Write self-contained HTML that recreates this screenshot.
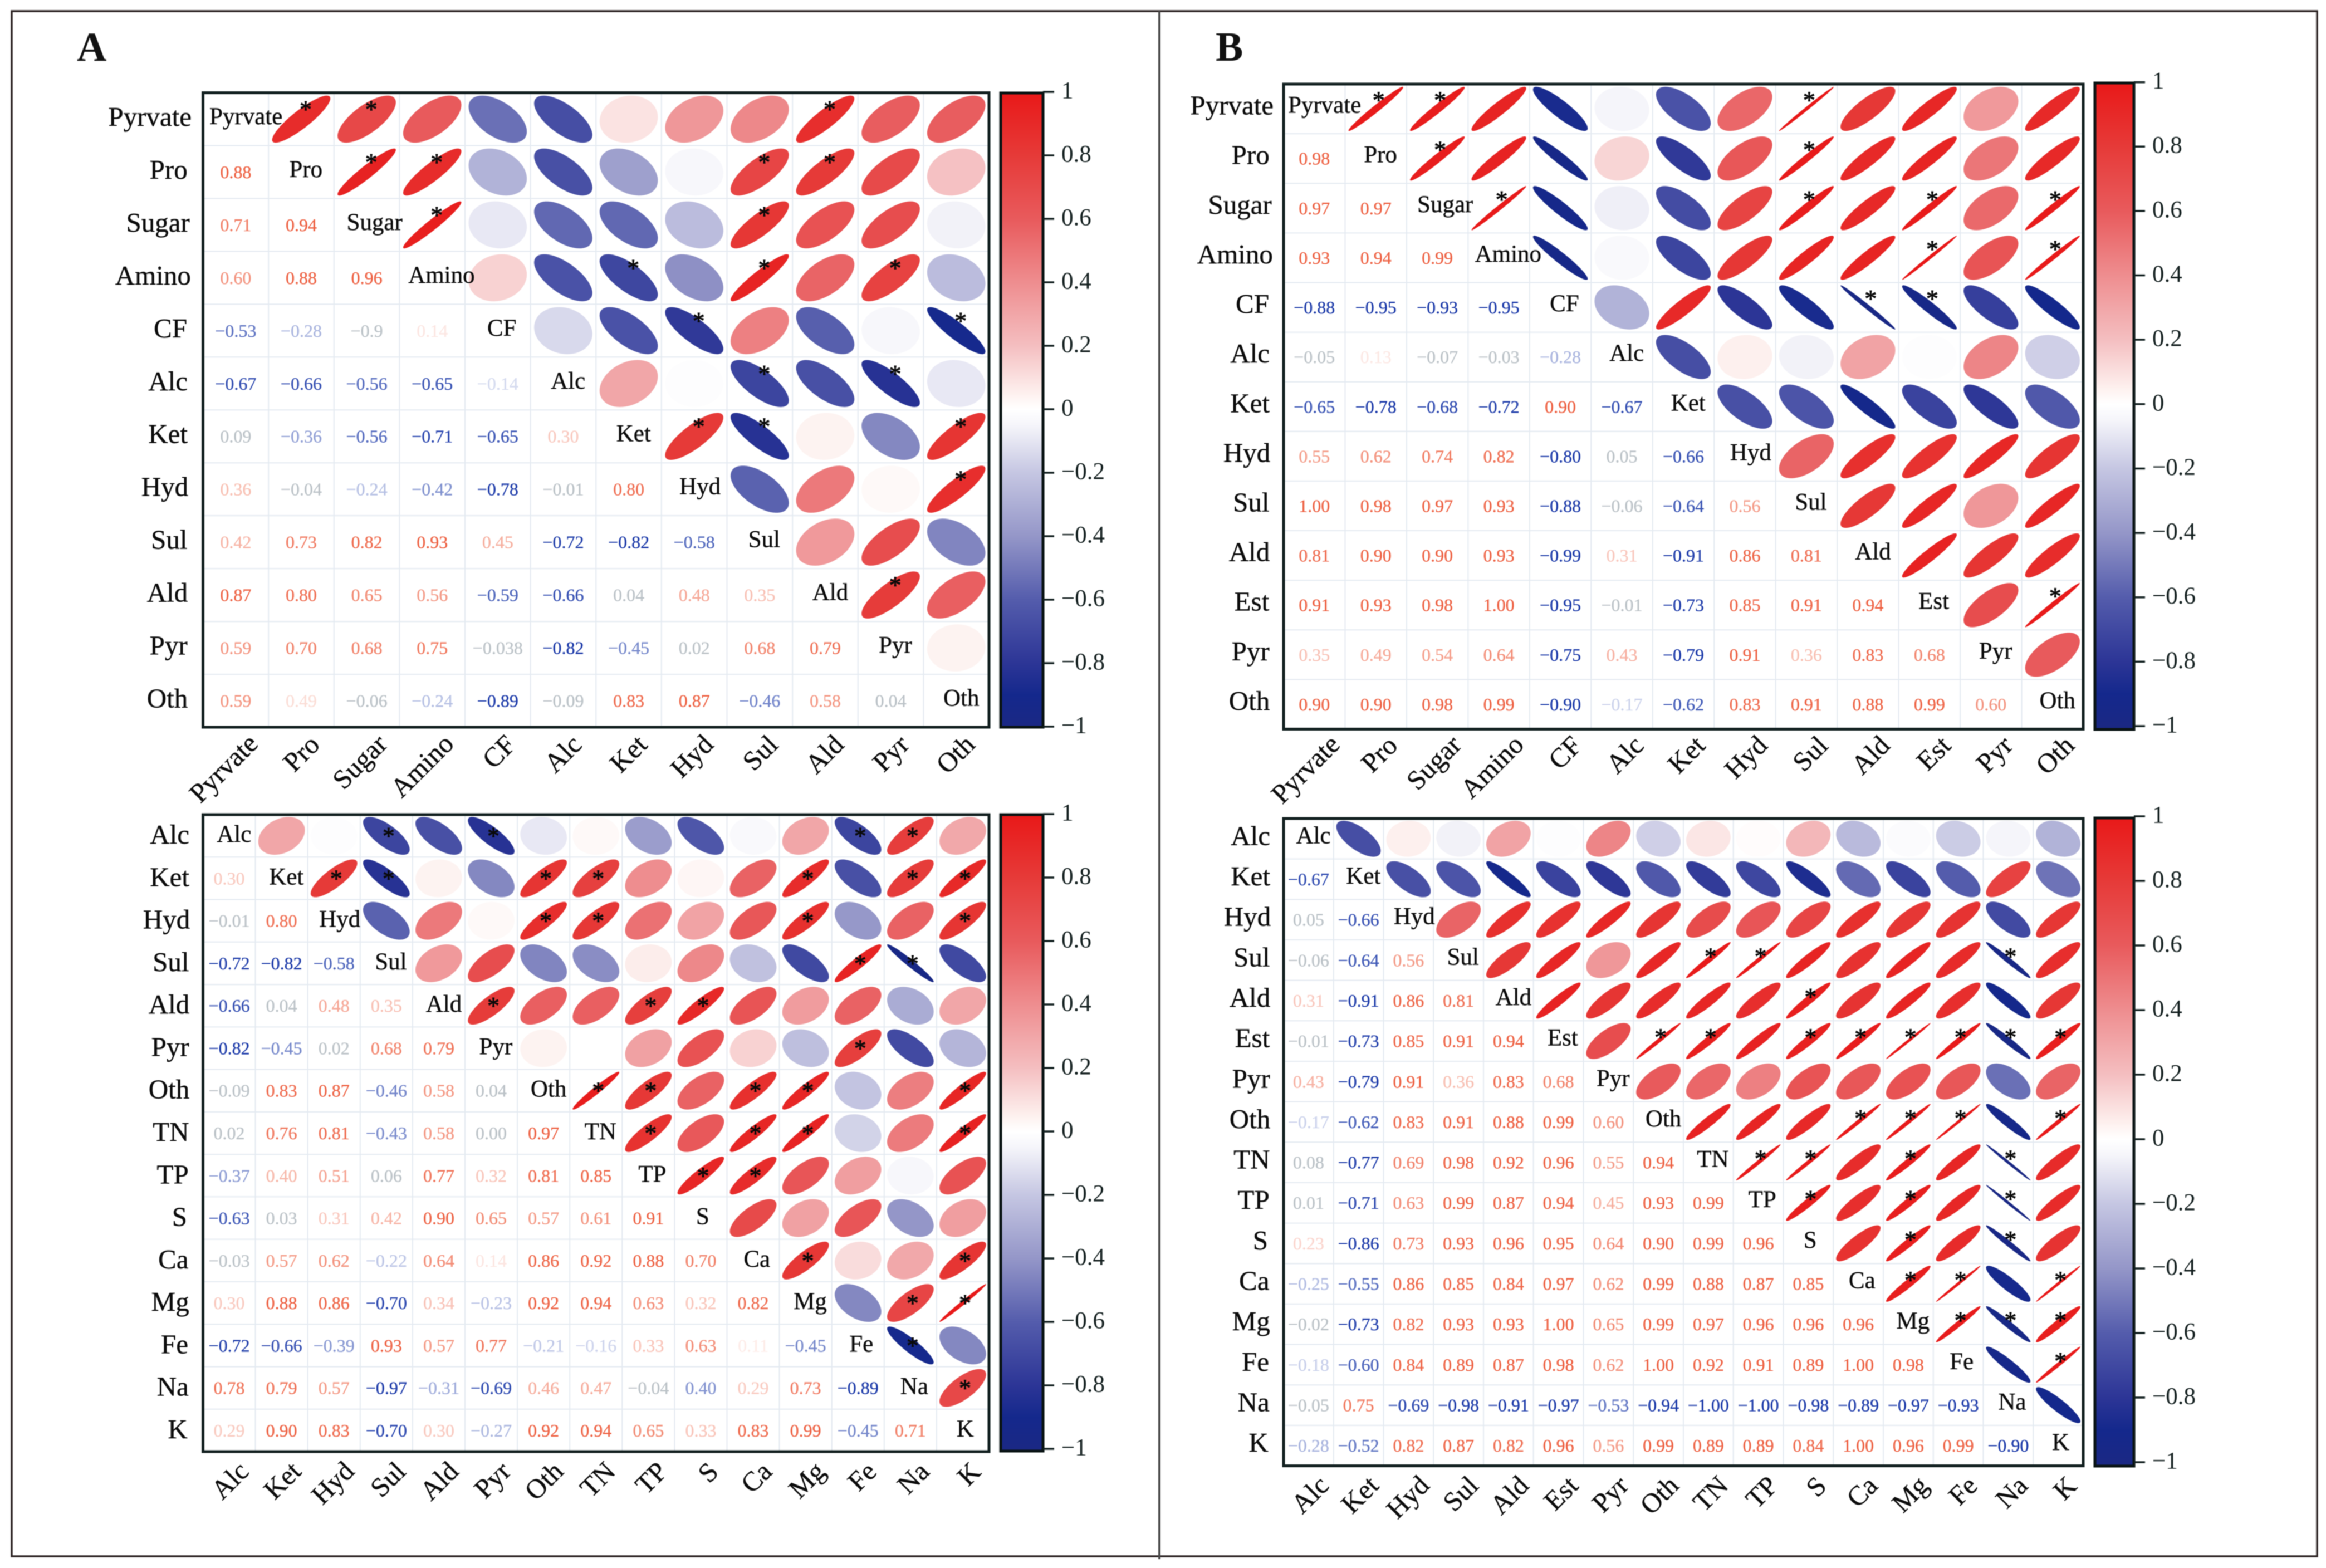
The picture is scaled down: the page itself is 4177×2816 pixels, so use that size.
<!DOCTYPE html>
<html lang="en">
<head>
<meta charset="utf-8">
<title>Correlation matrices A and B</title>
<style>
html,body{margin:0;padding:0;background:#fff;}
svg{display:block;filter:blur(0.7px);}
text{font-family:"Liberation Serif",serif;}
</style>
</head>
<body>
<svg id="chart" xmlns="http://www.w3.org/2000/svg" width="4177" height="2816" viewBox="0 0 4177 2816">
  <defs id="defs"></defs>
  <rect x="0" y="0" width="4177" height="2816" fill="#ffffff"/>
  <rect x="21" y="20" width="4140" height="2775" fill="none" stroke="#2b2323" stroke-width="3.5"/>
  <line x1="2082" y1="20" x2="2082" y2="2800" stroke="#4a4a4a" stroke-width="4"/>
  <text x="138" y="109" font-size="74" font-weight="bold" fill="#111">A</text>
  <text x="2183" y="109" font-size="74" font-weight="bold" fill="#111">B</text>
</svg>
<script>
// ---------- Data: panel A, top ----------
const catsA1 = ["Pyrvate","Pro","Sugar","Amino","CF","Alc","Ket","Hyd","Sul","Ald","Pyr","Oth"];
const rA1 = [
 [],
 [0.88],
 [0.71,0.94],
 [0.60,0.88,0.96],
 [-0.53,-0.28,-0.09,0.14],
 [-0.67,-0.66,-0.56,-0.65,-0.14],
 [0.09,-0.36,-0.56,-0.71,-0.65,0.30],
 [0.36,-0.04,-0.24,-0.42,-0.78,-0.01,0.80],
 [0.42,0.73,0.82,0.93,0.45,-0.72,-0.82,-0.58],
 [0.87,0.80,0.65,0.56,-0.59,-0.66,0.04,0.48,0.35],
 [0.59,0.70,0.68,0.75,-0.038,-0.82,-0.45,0.02,0.68,0.79],
 [0.59,0.19,-0.06,-0.24,-0.89,-0.09,0.83,0.87,-0.46,0.58,0.04]
];
const printedA1 = {"4,2":"−0.9","11,1":"0.49","10,4":"−0.038"};
const starsA1 = [
 ["Pyrvate",["Pro","Sugar","Ald"]],
 ["Pro",["Sugar","Amino","Sul","Ald"]],
 ["Sugar",["Amino","Sul"]],
 ["Amino",["Ket","Sul","Pyr"]],
 ["CF",["Hyd","Oth"]],
 ["Alc",["Sul","Pyr"]],
 ["Ket",["Hyd","Sul","Oth"]],
 ["Hyd",["Oth"]],
 ["Ald",["Pyr"]]
];
// ---------- Data: panel A, bottom ----------
const catsA2 = ["Alc","Ket","Hyd","Sul","Ald","Pyr","Oth","TN","TP","S","Ca","Mg","Fe","Na","K"];
const rA2 = [
 [],
 [0.30],
 [-0.01,0.80],
 [-0.72,-0.82,-0.58],
 [-0.66,0.04,0.48,0.35],
 [-0.82,-0.45,0.02,0.68,0.79],
 [-0.09,0.83,0.87,-0.46,0.58,0.04],
 [0.02,0.76,0.81,-0.43,0.58,0.00,0.97],
 [-0.37,0.40,0.51,0.06,0.77,0.32,0.81,0.85],
 [-0.63,0.03,0.31,0.42,0.90,0.65,0.57,0.61,0.91],
 [-0.03,0.57,0.62,-0.22,0.64,0.14,0.86,0.92,0.88,0.70],
 [0.30,0.88,0.86,-0.70,0.34,-0.23,0.92,0.94,0.63,0.32,0.82],
 [-0.72,-0.66,-0.39,0.93,0.57,0.77,-0.21,-0.16,0.33,0.63,0.11,-0.45],
 [0.78,0.79,0.57,-0.97,-0.31,-0.69,0.46,0.47,-0.04,-0.40,0.29,0.73,-0.89],
 [0.29,0.90,0.83,-0.70,0.30,-0.27,0.92,0.94,0.65,0.33,0.83,0.99,-0.45,0.71]
];
const printedA2 = {"13,9":"0.40"};
const starsA2 = [
 ["Alc",["Sul","Pyr","Fe","Na"]],
 ["Ket",["Hyd","Sul","Oth","TN","Mg","Na","K"]],
 ["Hyd",["Oth","TN","Mg","K"]],
 ["Sul",["Fe","Na"]],
 ["Ald",["Pyr","TP","S"]],
 ["Pyr",["Fe"]],
 ["Oth",["TN","TP","Ca","Mg","K"]],
 ["TN",["TP","Ca","Mg","K"]],
 ["TP",["S","Ca"]],
 ["Ca",["Mg","K"]],
 ["Mg",["Na","K"]],
 ["Fe",["Na"]],
 ["Na",["K"]]
];
// ---------- Data: panel B, top ----------
const catsB1 = ["Pyrvate","Pro","Sugar","Amino","CF","Alc","Ket","Hyd","Sul","Ald","Est","Pyr","Oth"];
const rB1 = [
 [],
 [0.98],
 [0.97,0.97],
 [0.93,0.94,0.99],
 [-0.88,-0.95,-0.93,-0.95],
 [-0.05,0.13,-0.07,-0.03,-0.28],
 [-0.65,-0.78,-0.68,-0.72,0.90,-0.67],
 [0.55,0.62,0.74,0.82,-0.80,0.05,-0.66],
 [1.00,0.98,0.97,0.93,-0.88,-0.06,-0.64,0.56],
 [0.81,0.90,0.90,0.93,-0.99,0.31,-0.91,0.86,0.81],
 [0.91,0.93,0.98,1.00,-0.95,-0.01,-0.73,0.85,0.91,0.94],
 [0.35,0.49,0.54,0.64,-0.75,0.43,-0.79,0.91,0.36,0.83,0.68],
 [0.90,0.90,0.98,0.99,-0.90,-0.17,-0.62,0.83,0.91,0.88,0.99,0.60]
];
const printedB1 = {};
const starsB1 = [
 ["Pyrvate",["Pro","Sugar","Sul"]],
 ["Pro",["Sugar","Sul"]],
 ["Sugar",["Amino","Sul","Est","Oth"]],
 ["Amino",["Est","Oth"]],
 ["CF",["Ald","Est"]],
 ["Est",["Oth"]]
];
// ---------- Data: panel B, bottom ----------
const catsB2 = ["Alc","Ket","Hyd","Sul","Ald","Est","Pyr","Oth","TN","TP","S","Ca","Mg","Fe","Na","K"];
const rB2 = [
 [],
 [-0.67],
 [0.05,-0.66],
 [-0.06,-0.64,0.56],
 [0.31,-0.91,0.86,0.81],
 [-0.01,-0.73,0.85,0.91,0.94],
 [0.43,-0.79,0.91,0.36,0.83,0.68],
 [-0.17,-0.62,0.83,0.91,0.88,0.99,0.60],
 [0.08,-0.77,0.69,0.98,0.92,0.96,0.55,0.94],
 [0.01,-0.71,0.63,0.99,0.87,0.94,0.45,0.93,0.99],
 [0.23,-0.86,0.73,0.93,0.96,0.95,0.64,0.90,0.99,0.96],
 [-0.25,-0.55,0.86,0.85,0.84,0.97,0.62,0.99,0.88,0.87,0.85],
 [-0.02,-0.73,0.82,0.93,0.93,1.00,0.65,0.99,0.97,0.96,0.96,0.96],
 [-0.18,-0.60,0.84,0.89,0.87,0.98,0.62,1.00,0.92,0.91,0.89,1.00,0.98],
 [-0.05,0.75,-0.69,-0.98,-0.91,-0.97,-0.53,-0.94,-1.00,-1.00,-0.98,-0.89,-0.97,-0.93],
 [-0.28,-0.52,0.82,0.87,0.82,0.96,0.56,0.99,0.89,0.89,0.84,1.00,0.96,0.99,-0.90]
];
const printedB2 = {};
const starsB2 = [
 ["Sul",["TN","TP","Na"]],
 ["Ald",["S"]],
 ["Est",["Oth","TN","S","Ca","Mg","Fe","Na","K"]],
 ["Oth",["Ca","Mg","Fe","K"]],
 ["TN",["TP","S","Mg","Na"]],
 ["TP",["S","Mg","Na"]],
 ["S",["Mg","Na"]],
 ["Ca",["Mg","Fe","K"]],
 ["Mg",["Fe","Na","K"]],
 ["Fe",["K"]]
];
const colorbarTicks = [1,0.8,0.6,0.4,0.2,0,-0.2,-0.4,-0.6,-0.8,-1];

// ---------- Colour ramp ----------
const rampValues = [-1,-0.9,-0.8,-0.6,-0.4,-0.2,-0.05,0,0.05,0.2,0.4,0.6,0.8,1];
const rampColors = [[26,40,132],[20,40,140],[44,53,150],[84,92,172],[148,150,200],[197,198,226],[245,245,250],[255,255,255],[253,240,238],[244,190,192],[238,141,143],[232,90,92],[230,58,56],[232,24,24]];
function rampColor(v){
  v = Math.max(-1,Math.min(1,v));
  for(let k=0;k<rampValues.length-1;k++){
    if(v<=rampValues[k+1]){
      const f=(v-rampValues[k])/(rampValues[k+1]-rampValues[k]);
      const a=rampColors[k],b=rampColors[k+1];
      return "rgb("+[0,1,2].map(c=>Math.round(a[c]+(b[c]-a[c])*f)).join(",")+")";
    }
  }
  return "rgb(232,24,24)";
}
function textColor(v){
  const t=Math.abs(v);
  if(t<0.1){ return "#bcc3c8"; }
  const target = v>0 ? [238,100,70] : [30,60,170];
  const f = Math.min(1, v>0 ? t/0.88 : t/0.75);
  return "rgb("+[0,1,2].map(c=>Math.round(255+(target[c]-255)*f)).join(",")+")";
}
const NS="http://www.w3.org/2000/svg";
const svg=document.getElementById("chart");
function mk(tag,attrs,parent,txt){
  const el=document.createElementNS(NS,tag);
  for(const k in attrs){ el.setAttribute(k,attrs[k]); }
  if(txt!==undefined){ el.textContent=txt; }
  parent.appendChild(el);
  return el;
}
function fmt(v){ return v.toFixed(2).replace("-","−"); }

function drawPanel(p){
  const n=p.cats.length;
  const cw=(p.x1-p.x0)/n, ch=(p.y1-p.y0)/n;
  const xAt=i=>p.x0+cw*(i+0.5);
  const yAt=i=>p.y0+ch*(i+0.5);
  const g=mk("g",{},svg);
  
  

  // grid
  for(let i=1;i<n;i++){
    const v=mk("line",{x1:p.x0+cw*i,x2:p.x0+cw*i,y1:p.y0,y2:p.y1,stroke:"#e4eaf1","stroke-width":2},g);
    
    
    const h=mk("line",{x1:p.x0,x2:p.x1,y1:p.y0+ch*i,y2:p.y0+ch*i,stroke:"#e4eaf1","stroke-width":2},g);
    
    
  }

  // upper-triangle ellipses from r values
  for(let i=0;i<n;i++){
    for(let j=0;j<i;j++){
      const r=p.r[i][j];
      const c=Math.max(-0.995,Math.min(0.995,r));
      const d=Math.acos(c);
      const ax=0.445*cw, ay=0.445*ch;
      const cx=xAt(i), cy=yAt(j);
      let path="";
      for(let s=0;s<60;s++){
        const t=s/60*2*Math.PI;
        const px=cx+ax*Math.cos(t+d/2);
        const py=cy-ay*Math.cos(t-d/2);
        path+=(s?"L":"M")+px.toFixed(1)+" "+py.toFixed(1);
      }
      const e=mk("path",{d:path+"Z",fill:rampColor(r)},g);
      
      
    }
  }

  // significance stars
  p.stars.forEach(function(row){
    const ri=p.cats.indexOf(row[0]);
    row[1].forEach(function(cn){
      const ci=p.cats.indexOf(cn);
      const st=mk("text",{x:xAt(ci)+p.starDx,y:yAt(ri)+p.starDy+20,"font-size":44,"text-anchor":"middle",fill:"#0a0a0a",stroke:"#0a0a0a","stroke-width":0.9},g,"*");
      
      
    });
  });

  // lower-triangle printed numbers
  for(let i=1;i<n;i++){
    for(let j=0;j<i;j++){
      const r=p.r[i][j];
      const key=i+","+j;
      const label=(key in p.printed)?p.printed[key]:fmt(r);
      const col=textColor(r);
      const t=mk("text",{x:xAt(j),y:yAt(i)+11,"font-size":32,"text-anchor":"middle",fill:col,stroke:col,"stroke-width":0.35},g,label);
      
      
    }
  }

  // diagonal names, row labels, column labels
  p.cats.forEach(function(name,i){
    const dl=mk("text",{x:xAt(i),y:yAt(i)+11+p.labelDy,"font-size":43,"text-anchor":"middle",fill:"#0c0c0c",stroke:"#0c0c0c","stroke-width":0.4},g,name);
    
    
    dl.setAttribute("x",xAt(i)+0.14*dl.getComputedTextLength());

    const rl=mk("text",{y:yAt(i)+14+p.labelDy,"font-size":49,"text-anchor":"end",fill:"#0c0c0c",stroke:"#0c0c0c","stroke-width":0.4},g,name);
    
    
    rl.setAttribute("x",p.rowX+0.09*(rl.getComputedTextLength()-60));

    const cl=mk("text",{"font-size":49,"text-anchor":"middle",fill:"#0c0c0c",stroke:"#0c0c0c","stroke-width":0.4},g,name);
    
    
    const L=cl.getComputedTextLength();
    const lx=xAt(i)+20-0.27*L+p.colDx;
    const ly=p.y1+30+0.33*L+p.colDy;
    cl.setAttribute("transform","translate("+lx.toFixed(1)+","+ly.toFixed(1)+") rotate(-45) translate(0,14)");
  });

  // plot box
  const box=mk("rect",{x:p.x0,y:p.y0,width:p.x1-p.x0,height:p.y1-p.y0,fill:"none",stroke:"#122020","stroke-width":5},g);
  
  

  // colorbar
  const cbY=v=>p.tick1+(1-v)/2*(p.tickM1-p.tick1);
  const gid="grad-"+p.name;
  const grad=mk("linearGradient",{id:gid,gradientUnits:"userSpaceOnUse",x1:0,x2:0,y1:cbY(1),y2:cbY(-1)},document.getElementById("defs"));
  rampValues.slice().reverse().forEach(function(v){
    mk("stop",{offset:(1-v)/2,"stop-color":rampColor(v)},grad);
  });
  const cb=mk("rect",{x:p.cbX0,y:p.cbTop,width:p.cbX1-p.cbX0,height:p.cbBottom-p.cbTop,fill:"url(#"+gid+")",stroke:"#0a1414","stroke-width":5},g);
  
  
  colorbarTicks.forEach(function(v){
    const y=cbY(v);
    const tk=mk("line",{x1:p.cbX1,x2:p.cbX1+20,y1:y,y2:y,stroke:"#122020","stroke-width":3.5},g);
    
    
    const lb=mk("text",{x:p.cbX1+33,y:y+11.5,"font-size":43,fill:"#142020"},g,String(v).replace("-","−"));
    
    
  });
}

drawPanel({name:"panel-a-top",cats:catsA1,r:rA1,printed:printedA1,stars:starsA1,
  x0:364.5,x1:1776,y0:166.5,y1:1306,rowX:336,starDx:8,starDy:-23,labelDy:-2,colDx:0,colDy:-4,
  cbX0:1797,cbX1:1873,cbTop:167,cbBottom:1306,tick1:165,tickM1:1305});
drawPanel({name:"panel-a-bottom",cats:catsA2,r:rA2,printed:printedA2,stars:starsA2,
  x0:364.5,x1:1776,y0:1463,y1:2607,rowX:339,starDx:4,starDy:-5,labelDy:0,colDx:2,colDy:0,
  cbX0:1797,cbX1:1873,cbTop:1463,cbBottom:2606,tick1:1462,tickM1:2602});
drawPanel({name:"panel-b-top",cats:catsB1,r:rB1,printed:printedB1,stars:starsB1,
  x0:2305,x1:3741,y0:151,y1:1309.5,rowX:2279,starDx:5,starDy:-21,labelDy:-4,colDx:6,colDy:-6,
  cbX0:3762,cbX1:3832,cbTop:149,cbBottom:1310,tick1:147.6,tickM1:1304});
drawPanel({name:"panel-b-bottom",cats:catsB2,r:rB2,printed:printedB2,stars:starsB2,
  x0:2305,x1:3741,y0:1470,y1:2632.5,rowX:2280,starDx:4,starDy:-12,labelDy:-3,colDx:3,colDy:0,
  cbX0:3762,cbX1:3832,cbTop:1469,cbBottom:2633,tick1:1466,tickM1:2626});
</script>
</body>
</html>
